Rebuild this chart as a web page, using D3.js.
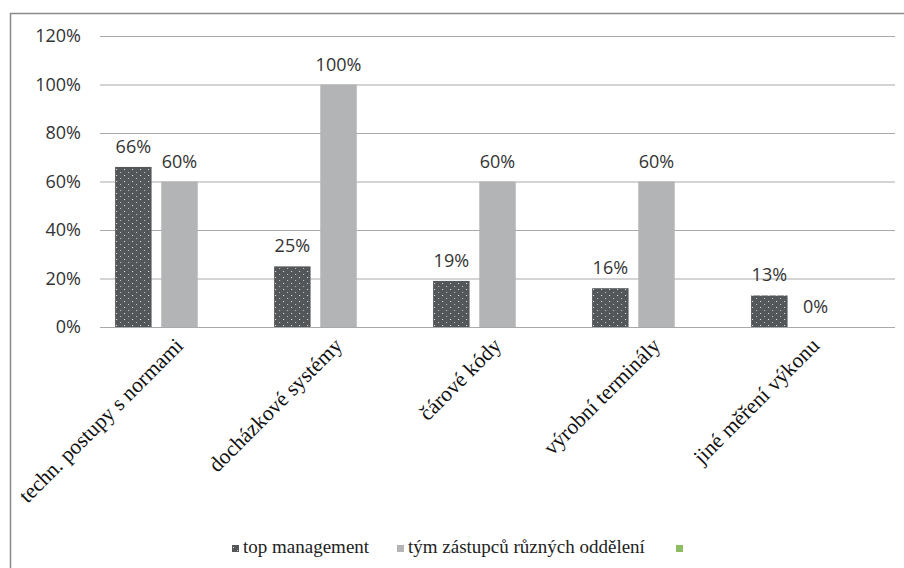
<!DOCTYPE html>
<html>
<head>
<meta charset="utf-8">
<script src="https://cdn.jsdelivr.net/npm/d3@7"></script>
<style>
  html, body { margin: 0; padding: 0; background: #fff; }
  svg { display: block; }
  .serif { font-family: "Liberation Serif", Tinos, "Times New Roman", Times, serif; }
  .sans { font-family: "Open Sans", sans-serif; }
</style>
</head>
<body>
<svg id="chart" width="904" height="568"></svg>
<script>
// Survey results: how performance is measured, by respondent group
const categories = [
  "techn. postupy s normami",
  "docházkové systémy",
  "čárové kódy",
  "výrobní terminály",
  "jiné měření výkonu"
];
const seriesNames = ["top management", "tým zástupců různých oddělení", ""];
const topManagement = [0.66, 0.25, 0.19, 0.16, 0.13];
const teamReps = [0.60, 1.00, 0.60, 0.60, 0.00];
const thirdSeries = [null, null, null, null, null];
const yTicks = [0, 0.2, 0.4, 0.6, 0.8, 1.0, 1.2];

const seriesValues = [topManagement, teamReps, thirdSeries];
const seriesColors = ["#53575a", "#b2b4b6", "#8fbc63"];

const svg = d3.select("#chart");
const W = 904, H = 568;
const plot = { left: 100, right: 895, top: 36, bottom: 327 };

// dotted fill for the first series
const defs = svg.append("defs");
const pat = defs.append("pattern")
  .attr("id", "dots")
  .attr("patternUnits", "userSpaceOnUse")
  .attr("width", 8).attr("height", 6);
pat.append("rect").attr("width", 8).attr("height", 6).attr("fill", seriesColors[0]);
pat.append("rect").attr("x", 1).attr("y", 1).attr("width", 1).attr("height", 1).attr("fill", "#e8e8e8");
pat.append("rect").attr("x", 5).attr("y", 4).attr("width", 1).attr("height", 1).attr("fill", "#c8c8c8");

const fills = ["url(#dots)", seriesColors[1], seriesColors[2]];

// chart frame
svg.append("rect")
  .attr("x", 10.5).attr("y", 13.5)
  .attr("width", W + 20).attr("height", H + 20)
  .attr("fill", "none")
  .attr("stroke", "#8a8a8a")
  .attr("stroke-width", 1.5);

const x0 = d3.scaleBand()
  .domain(categories)
  .range([plot.left, plot.right])
  .paddingInner(0.19)
  .paddingOuter(0.095);

const x1 = d3.scaleBand()
  .domain(d3.range(seriesNames.length))
  .range([0, x0.bandwidth()])
  .paddingInner(0.21)
  .paddingOuter(0);

const y = d3.scaleLinear()
  .domain([0, 1.2])
  .range([plot.bottom, plot.top]);

// gridlines
const yAxis = d3.axisLeft(y)
  .tickValues(yTicks)
  .tickFormat(d3.format(".0%"))
  .tickSize(-(plot.right - plot.left))
  .tickPadding(19);

const gy = svg.append("g")
  .attr("transform", `translate(${plot.left},0)`)
  .call(yAxis);
gy.select(".domain").remove();
gy.selectAll(".tick line")
  .attr("stroke", "#a9a9a9")
  .attr("stroke-width", 1.2);
gy.selectAll(".tick text")
  .attr("class", "sans")
  .attr("font-family", null)
  .attr("font-size", 18)
  .attr("fill", "#333");

// bars
const groups = svg.append("g").selectAll("g")
  .data(categories)
  .join("g")
  .attr("transform", d => `translate(${x0(d)},0)`);

groups.selectAll("rect")
  .data((c, ci) => seriesValues.map((vals, si) => ({ si, v: vals[ci] })))
  .join("rect")
  .filter(d => d.v !== null)
  .attr("x", d => x1(d.si))
  .attr("width", x1.bandwidth())
  .attr("y", d => y(d.v))
  .attr("height", d => y(0) - y(d.v))
  .attr("fill", d => fills[d.si]);

// value labels
groups.selectAll("text.val")
  .data((c, ci) => seriesValues.map((vals, si) => ({ si, v: vals[ci] })).filter(d => d.v !== null))
  .join("text")
  .attr("class", "val sans")
  .attr("x", d => x1(d.si) + x1.bandwidth() / 2)
  .attr("y", d => y(d.v) - 14)
  .attr("text-anchor", "middle")
  .attr("font-size", 18)
  .attr("fill", "#333")
  .text(d => d3.format(".0%")(d.v));

// category labels
svg.append("g").selectAll("text")
  .data(categories)
  .join("text")
  .attr("class", "serif")
  .attr("transform", d => `translate(${x0(d) + x0.bandwidth() / 2 + 5},${plot.bottom + 20}) rotate(-45)`)
  .attr("text-anchor", "end")
  .attr("font-size", 21.5)
  .attr("fill", "#111")
  .text(d => d);

// legend
const legendItems = [
  { name: seriesNames[0], fill: "url(#dots)", x: 232 },
  { name: seriesNames[1], fill: seriesColors[1], x: 397 },
  { name: seriesNames[2], fill: seriesColors[2], x: 676 }
];
const lg = svg.append("g");
lg.selectAll("rect")
  .data(legendItems)
  .join("rect")
  .attr("x", d => d.x).attr("y", 545)
  .attr("width", 7).attr("height", 7)
  .attr("fill", d => d.fill);
lg.selectAll("text")
  .data(legendItems)
  .join("text")
  .attr("class", "serif")
  .attr("x", d => d.x + 11).attr("y", 553)
  .attr("font-size", 19)
  .attr("fill", "#222")
  .text(d => d.name);
</script>
</body>
</html>
